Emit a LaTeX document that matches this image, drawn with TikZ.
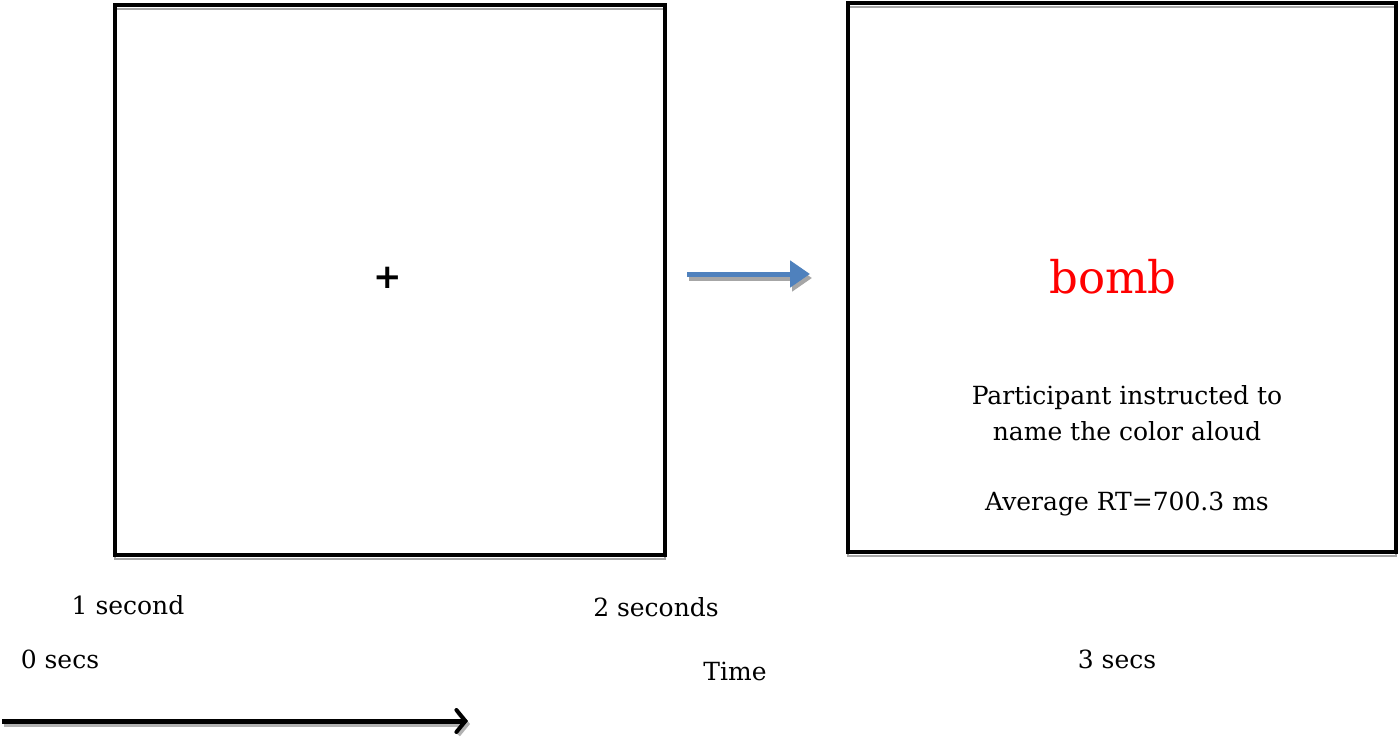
\documentclass[tikz,border=0pt]{standalone}
\usepackage{fontspec}
\setmainfont{DejaVu Serif}
\newfontfamily\plusfont{DejaVu Sans}
\usetikzlibrary{arrows.meta}
\definecolor{officeblue}{RGB}{79,129,189}
\tikzset{
  frame/.style={draw=black, line width=3.5pt},
  frameshadow/.style={draw=black!35, line width=2.5pt},
  lbl/.style={font=\fontsize{25}{30}\selectfont, inner sep=0pt, anchor=base},
  arrowshadow/.style={draw=black!35, line width=5pt},
}
\begin{document}
\begin{tikzpicture}[x=1pt,y=-1pt]
\useasboundingbox (0,0) rectangle (1400,739);
% left screen
\draw[frameshadow] (115,9) rectangle (665,559);
\draw[frame] (115,5) rectangle (665,555);
\node[inner sep=0pt, font=\plusfont\bfseries\fontsize{34}{40}\selectfont] (fix) at (388,278) {+};
% right screen
\draw[frameshadow] (848,7) rectangle (1396,556);
\draw[frame] (848,3) rectangle (1396,552);
\node[lbl, text=red, font=\fontsize{45}{50}\selectfont] (word) at (1113,293) {bomb};
\node[lbl] (instr1) at (1127,404) {Participant instructed to};
\node[lbl] (instr2) at (1127,440) {name the color aloud};
\node[lbl] (rt) at (1127,510) {Average RT=700.3 ms};
% blue arrow
\coordinate (ba) at (687,274);
\coordinate (bb) at (810,274);
\coordinate (bas) at (689,278);
\coordinate (bbs) at (812,278);
\draw[arrowshadow, -{Triangle[length=20pt,width=26pt]}] (bas) -- (bbs);
\draw[draw=officeblue, line width=5pt, -{Triangle[length=20pt,width=26pt]}] (ba) -- (bb);
% time labels
\node[lbl] (t1) at (128,614) {1 second};
\node[lbl] (t2) at (656,616) {2 seconds};
\node[lbl] (t0) at (60,668) {0 secs};
\node[lbl] (tt) at (735,680) {Time};
\node[lbl] (t3) at (1117,668) {3 secs};
% time arrow
\coordinate (ta) at (2,721);
\coordinate (tb) at (468,721);
\coordinate (tas) at (4,724);
\coordinate (tbs) at (470,724);
\draw[draw=black!30, line width=5pt, -{Straight Barb[length=9pt,width=22pt,line width=4pt]}] (tas) -- (tbs);
\draw[draw=black, line width=5pt, -{Straight Barb[length=9pt,width=22pt,line width=4pt, line cap=round]}] (ta) -- (tb);
\end{tikzpicture}
\end{document}
